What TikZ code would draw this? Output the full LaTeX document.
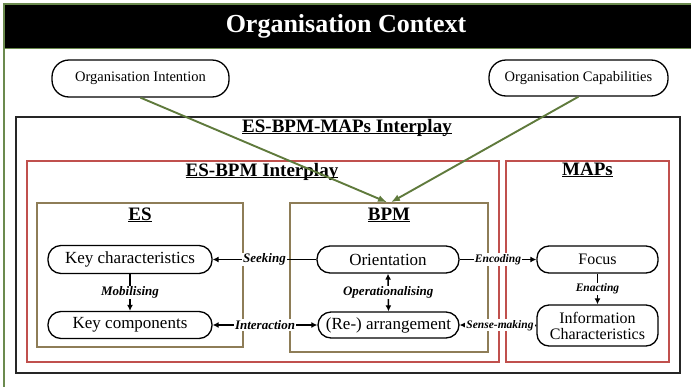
\documentclass[tikz,border=0pt]{standalone}
\usepackage{fontspec}
\setmainfont{Liberation Serif}
\usetikzlibrary{arrows.meta}

\definecolor{framegreen}{HTML}{6B8A4E}
\definecolor{flowgreen}{HTML}{5F7A3C}
\definecolor{boxred}{HTML}{C0504D}
\definecolor{boxtan}{HTML}{8E7D57}
\definecolor{boxgray}{HTML}{262626}

\newcommand{\heading}[1]{\underline{\smash{#1}}}

\tikzset{
  areabox/.style={draw=#1, line width=1.6pt, inner sep=0pt, fill=none},
  headtext/.style={inner sep=0pt, font=\fontsize{19}{22}\selectfont\bfseries},
  pill/.style={draw=black, line width=1.3pt, rounded corners=#1, inner sep=0pt,
    align=center, fill=white},
  bignode/.style={pill=13pt, font=\fontsize{17}{19}\selectfont},
  mapnode/.style={pill=12pt, font=\fontsize{16}{19}\selectfont},
  topnode/.style={pill=17pt, font=\fontsize{14.5}{17}\selectfont},
  flow/.style={line width=1.6pt, draw=black},
  tip/.tip={Latex[length=6pt,width=6pt]},
  influence/.style={line width=1.9pt, draw=flowgreen,
    -{Latex[length=9pt,width=7pt]}},
  edgelabel/.style={fill=white, inner sep=1pt,
    font=\fontsize{13}{15}\selectfont\bfseries\itshape},
  smalllabel/.style={edgelabel, font=\fontsize{11.5}{13}\selectfont\bfseries\itshape},
}

\begin{document}
\begin{tikzpicture}[x=1pt, y=-1pt]
\useasboundingbox (0,0) rectangle (691,386);

% outer frame with the black title band
\begin{scope}
  \clip (0,0) rectangle (691,386);
  \fill[black] (4,4) rectangle (691,48);
  \draw[framegreen, line width=1.5pt] (4,420) -- (4,4) -- (691,4);
  \draw[framegreen, line width=1.2pt] (4,48.5) -- (691,48.5);
\end{scope}
\node[white, inner sep=0pt, font=\fontsize{26}{30}\selectfont\bfseries]
  (context) at (346,26) {Organisation Context};

% organisational drivers
\node[topnode, minimum width=177, minimum height=37] (intent) at (140.5,78.5)
  {Organisation Intention};
\node[topnode, minimum width=179, minimum height=36] (capab) at (578.5,78)
  {Organisation Capabilities};

% nested areas
\node[areabox=boxgray, minimum width=664, minimum height=256] (allbox) at (348,245) {};
\node[areabox=boxred, minimum width=472, minimum height=201] (esbpmbox) at (263,261.5) {};
\node[areabox=boxred, minimum width=163, minimum height=201] (mapsbox) at (587.5,261.5) {};
\node[areabox=boxtan, minimum width=206, minimum height=144] (esbox) at (140,275) {};
\node[areabox=boxtan, minimum width=198, minimum height=149] (bpmbox) at (389,277.5) {};

\node[headtext] (h-all) at (347,133) {\heading{ES-BPM-MAPs Interplay}};
\node[headtext] (h-esbpm) at (262,177) {\heading{ES-BPM Interplay}};
\node[headtext] (h-maps) at (587.5,176) {\heading{MAPs}};
\node[headtext] (h-es) at (140,221) {\heading{ES}};
\node[headtext] (h-bpm) at (389,221) {\heading{BPM}};

% concepts
\node[bignode, minimum width=164, minimum height=28] (keychar) at (130,259.5) {Key characteristics};
\node[bignode, minimum width=164, minimum height=27] (keycomp) at (130,325) {Key components};
\node[bignode, minimum width=142, minimum height=27] (orient) at (388,259.5) {Orientation};
\node[bignode, minimum width=141, minimum height=26] (arrange) at (388.5,325) {(Re-) arrangement};
\node[mapnode, minimum width=121, minimum height=27] (focus) at (597.5,259.5) {Focus};
\node[mapnode, minimum width=121, minimum height=41] (info) at (597.5,325.5)
  {Information\\[-3pt]Characteristics};

% relations
\draw[flow, -tip] (orient.west) -- node[edgelabel] {Seeking} (keychar.east);
\draw[flow, -tip] (keychar.south) -- node[edgelabel] {Mobilising} (keycomp.north);
\draw[flow, tip-tip] (keycomp.east) -- node[edgelabel] {Interaction} (arrange.west);
\draw[flow, tip-tip] (orient.south) -- node[edgelabel] {Operationalising} (arrange.north);
\draw[flow, -tip] (orient.east) -- node[smalllabel] {Encoding} (focus.west);
\draw[flow, -tip] (focus.south) -- node[smalllabel] {Enacting} (info.north);
\draw[flow, -tip] (info.west) -- node[smalllabel, xshift=2pt] {Sense-making} (arrange.east);

% influence of the organisation on BPM
\draw[influence] (intent.south) -- ([xshift=-2pt]bpmbox.north);
\draw[influence] (capab.south) -- ([xshift=2pt]bpmbox.north);
\end{tikzpicture}
\end{document}
